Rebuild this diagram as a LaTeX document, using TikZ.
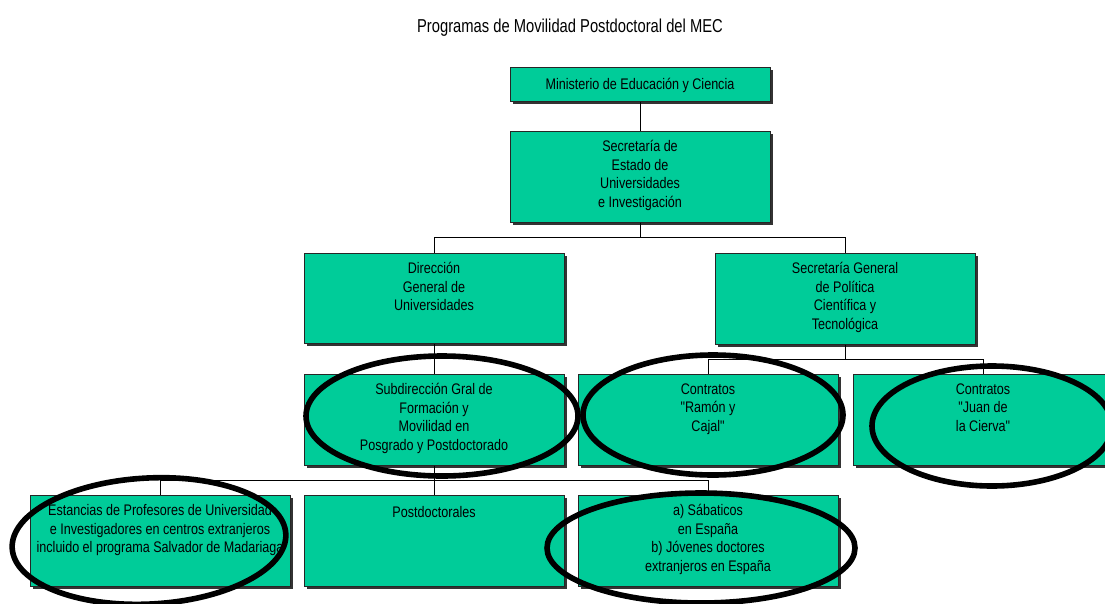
\documentclass[tikz,border=0pt]{standalone}
\usepackage{fontspec}
\setmainfont{Liberation Sans}[FakeStretch=0.82]
\newfontfamily\titlefont{Liberation Sans}[FakeStretch=0.79]
\newfontfamily\quotefont{Liberation Sans}[FakeStretch=0.82]
\newcommand\sq{{\quotefont"}}
\usetikzlibrary{shadows,calc}
\definecolor{boxgreen}{RGB}{0,204,153}
\tikzset{
  box/.style={rectangle, draw=black!85, line width=0.5pt, fill=boxgreen,
    minimum width=195pt, inner sep=0pt, anchor=north,
    drop shadow={shadow xshift=2pt, shadow yshift=-2pt, fill=black!80, opacity=1}},
  txt/.style={align=center, inner sep=0pt, anchor=north, font=\fontsize{11.5}{13.9}\selectfont,
    execute at begin node={\rule{0pt}{9.5pt}}},
  conn/.style={draw=black, line width=0.6pt},
  ovalring/.style={draw=black, line width=4.2pt},
}
\begin{document}
\begin{tikzpicture}[x=0.75pt, y=-0.75pt]
\clip (0,0) rectangle (1105,603);
\fill[white] (0,0) rectangle (1105,603);

\node[font=\titlefont\fontsize{14}{16}\selectfont, anchor=base, inner sep=0pt] (title) at (570,32) {Programas de Movilidad Postdoctoral del MEC};

% boxes
\node[box, minimum height=25.5pt] (min) at (640,67) {};
\node[box, minimum height=68.25pt] (se) at (640,131) {};
\node[box, minimum height=67.5pt] (dg) at (434,253) {};
\node[box, minimum height=68.25pt] (sg) at (845,253) {};
\node[box, minimum height=68.25pt] (sub) at (434,374) {};
\node[box, minimum height=68.25pt] (ra) at (708,374) {};
\node[box, minimum height=68.25pt] (ju) at (983,374) {};
\node[box, minimum height=68.25pt] (es) at (160,495) {};
\node[box, minimum height=68.25pt] (pd) at (434,495) {};
\node[box, minimum height=68.25pt] (sa) at (708,495) {};

% texts
\node[txt] (minT) at ($(min.north)+(0,9.3)$) {Ministerio de Educación y Ciencia};
\node[txt] (seT) at ($(se.north)+(0,9.3)$) {Secretaría de\\Estado de\\Universidades\\e Investigación};
\node[txt] (dgT) at ($(dg.north)+(0,9.3)$) {Dirección\\General de\\Universidades};
\node[txt] (sgT) at ($(sg.north)+(0,9.3)$) {Secretaría General\\de Política\\Científica y\\Tecnológica};
\node[txt] (subT) at ($(sub.north)+(0,9.3)$) {Subdirección Gral de\\Formación y\\Movilidad en\\Posgrado y Postdoctorado};
\node[txt] (raT) at ($(ra.north)+(0,9.3)$) {Contratos\\\sq Ramón y\\Cajal\sq};
\node[txt] (juT) at ($(ju.north)+(0,9.3)$) {Contratos\\\sq Juan de\\la Cierva\sq};
\node[txt] (esT) at ($(es.north)+(0,9.3)$) {Estancias de Profesores de Universidad\\e Investigadores en centros extranjeros\\incluido el programa Salvador de Madariaga};
\node[txt] (pdT) at ($(pd.north)+(0,9.3)$) {Postdoctorales};
\node[txt] (saT) at ($(sa.north)+(0,9.3)$) {a) Sábaticos\\en España\\b) Jóvenes doctores\\extranjeros en España};

% connectors
\draw[conn] (min.south) -- (se.north);
\draw[conn] (se.south) -- ++(0,15) -| (dg.north);
\draw[conn] (se.south) -- ++(0,15) -| (sg.north);
\draw[conn] (dg.south) -- (sub.north);
\draw[conn] (sg.south) -- ++(0,15) -| (ra.north);
\draw[conn] (sg.south) -- ++(0,15) -| (ju.north);
\draw[conn] (sub.south) -- ++(0,15) -| (es.north);
\draw[conn] (sub.south) -- (pd.north);
\draw[conn] (sub.south) -- ++(0,15) -| (sa.north);

% highlight ellipses
\draw[ovalring] (442,416) ellipse [x radius=102pt, y radius=45pt];
\draw[ovalring] (713,415) ellipse [x radius=97.5pt, y radius=45pt];
\draw[ovalring] (992,426) ellipse [x radius=90pt, y radius=45pt];
\draw[ovalring, rotate around={3:(149,541)}] (149,541) ellipse [x radius=102.75pt, y radius=47.25pt];
\draw[ovalring] (701,548) ellipse [x radius=115.5pt, y radius=41.25pt];
\end{tikzpicture}
\end{document}
